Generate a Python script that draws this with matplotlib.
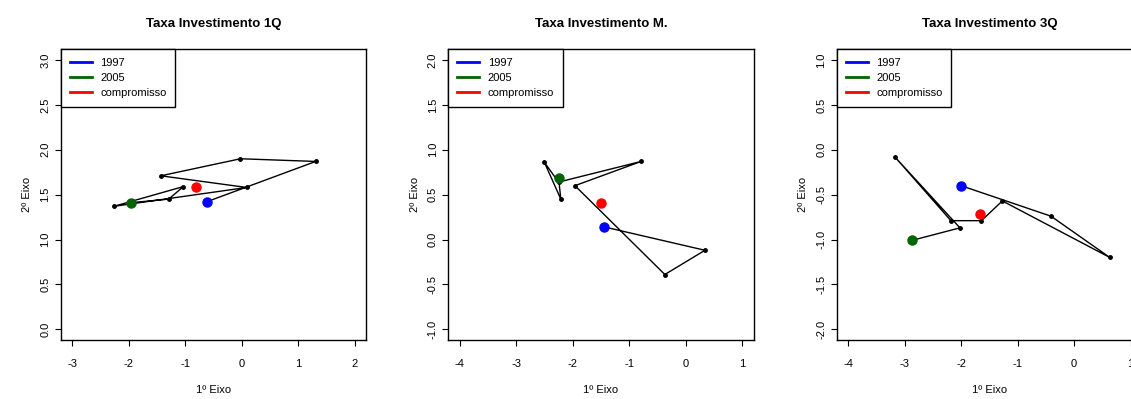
import matplotlib
matplotlib.use("Agg")
import matplotlib.pyplot as plt

plt.rcParams['font.family'] = ['Liberation Sans', 'DejaVu Sans']
plt.rcParams['axes.unicode_minus'] = False

# trajectories 1997..2005 on the first two axes, plus the compromise point
titles = ["Taxa Investimento 1Q", "Taxa Investimento M.", "Taxa Investimento 3Q"]

x_1q = [-0.62, 1.31, -0.02, -1.43, 0.09, -2.26, -1.03, -1.29, -1.96]
y_1q = [1.42, 1.87, 1.90, 1.71, 1.58, 1.37, 1.59, 1.45, 1.41]
comp_1q = (-0.80, 1.59)

x_m = [-1.44, 0.34, -0.37, -1.96, -0.79, -2.25, -2.50, -2.21, -2.25]
y_m = [0.14, -0.12, -0.39, 0.60, 0.87, 0.64, 0.86, 0.45, 0.69]
comp_m = (-1.50, 0.41)

x_3q = [-2.00, -0.41, 0.63, -1.27, -1.64, -2.18, -3.17, -2.02, -2.87]
y_3q = [-0.40, -0.74, -1.20, -0.57, -0.79, -0.79, -0.08, -0.87, -1.01]
comp_3q = (-1.67, -0.72)

xticks = [[-3, -2, -1, 0, 1, 2], [-4, -3, -2, -1, 0, 1], [-4, -3, -2, -1, 0, 1]]
yticks = [[0.0, 0.5, 1.0, 1.5, 2.0, 2.5, 3.0],
          [-1.0, -0.5, 0.0, 0.5, 1.0, 1.5, 2.0],
          [-2.0, -1.5, -1.0, -0.5, 0.0, 0.5, 1.0]]
xlims = [(-3.2, 2.2), (-4.2, 1.2), (-4.2, 1.2)]
ylims = [(-0.12, 3.12), (-1.12, 2.12), (-2.12, 1.12)]

series = [(x_1q, y_1q, comp_1q), (x_m, y_m, comp_m), (x_3q, y_3q, comp_3q)]

W, H = 1131, 399
fig = plt.figure(figsize=(W / 100, H / 100), dpi=100)
lefts = [60.7, 448.3, 836.7]

for i in range(3):
    ax = fig.add_axes([lefts[i] / W, (H - 340) / H, 305.3 / W, 290.7 / H])
    xs, ys, comp = series[i]
    ax.plot(xs, ys, color='black', lw=1.0, marker='o', ms=2.5, mfc='black', mec='black', zorder=2)
    ax.plot(xs[0], ys[0], 'o', color='blue', ms=6.5, zorder=3)
    ax.plot(xs[-1], ys[-1], 'o', color='#006400', ms=6.5, zorder=3)
    ax.plot(comp[0], comp[1], 'o', color='red', ms=6.5, zorder=3)

    ax.set_xlim(xlims[i])
    ax.set_ylim(ylims[i])
    ax.set_xticks(xticks[i])
    ax.set_xticklabels([str(t) for t in xticks[i]])
    ax.set_yticks(yticks[i])
    ax.set_yticklabels(["%.1f" % t for t in yticks[i]], rotation=90, va='center')
    ax.tick_params(axis='x', length=4.5, width=0.8, pad=9, labelsize=8)
    ax.tick_params(axis='y', length=4.5, width=0.8, pad=3, labelsize=8)
    for s in ax.spines.values():
        s.set_linewidth(1.0)

    ax.set_title(titles[i], fontsize=9.5, fontweight='bold', pad=16)
    ax.set_xlabel("1º Eixo", fontsize=8, labelpad=12)
    ax.set_ylabel("2º Eixo", fontsize=8, labelpad=6)

    h1, = ax.plot([], [], color='blue', lw=2)
    h2, = ax.plot([], [], color='#006400', lw=2)
    h3, = ax.plot([], [], color='red', lw=2)
    leg = ax.legend([h1, h2, h3], ["1997", "2005", "compromisso"], loc='upper left',
                    fontsize=8, borderaxespad=0, fancybox=False, framealpha=1,
                    edgecolor='black', handlelength=2.0, handletextpad=0.75,
                    labelspacing=0.45, borderpad=0.8)
    leg.get_frame().set_linewidth(1.0)

fig.savefig("out.png", dpi=100)
